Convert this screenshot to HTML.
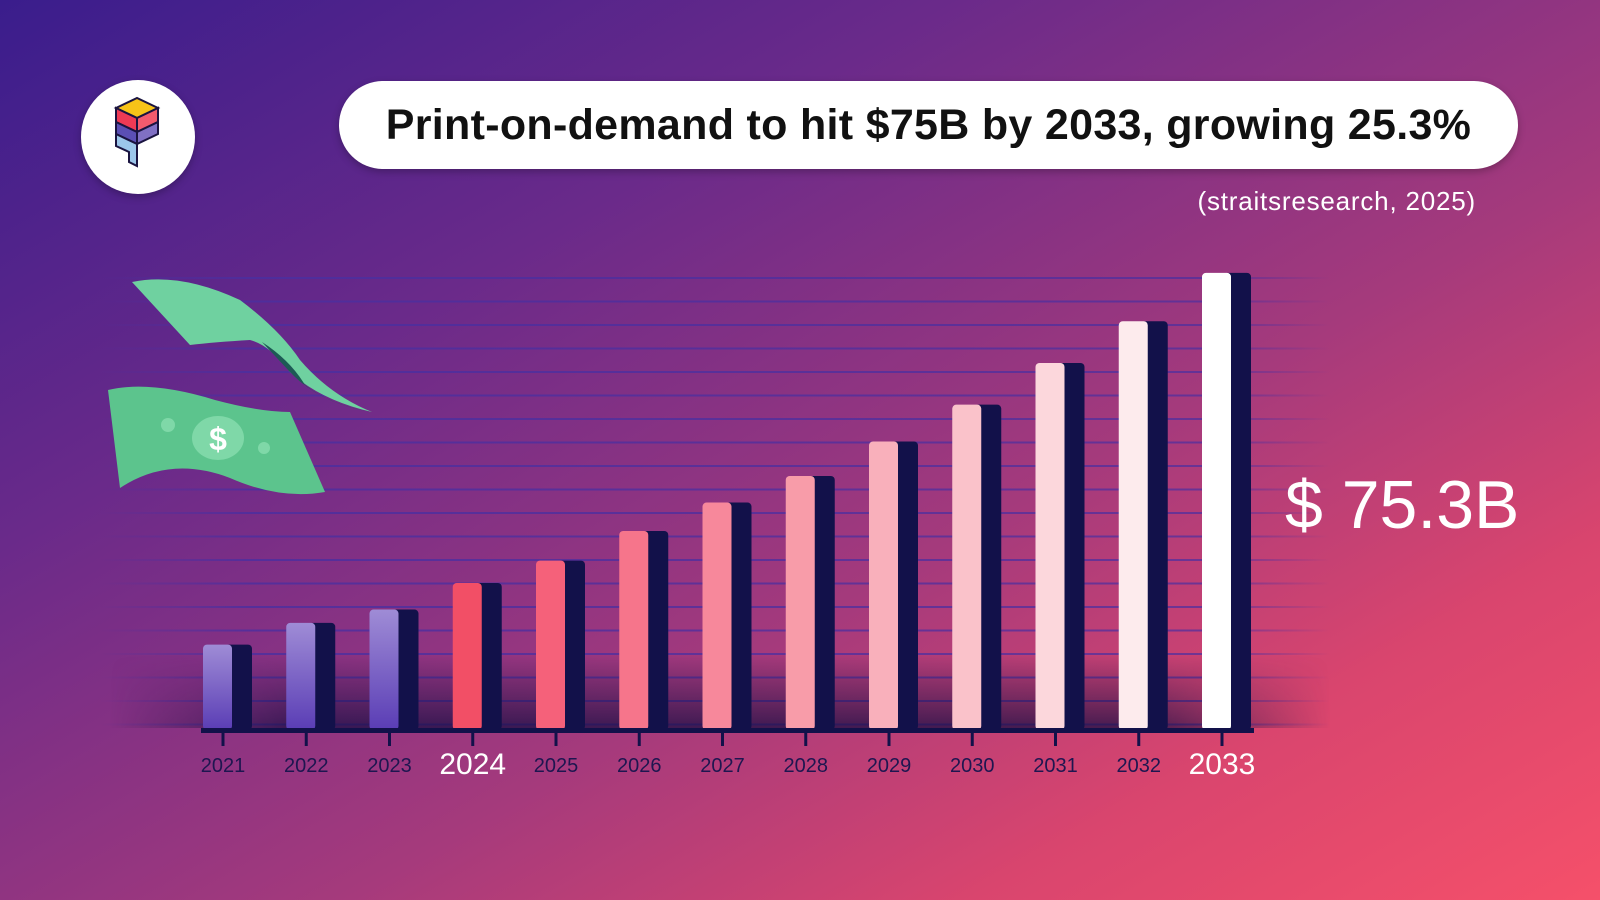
<!DOCTYPE html>
<html><head><meta charset="utf-8">
<style>
html,body{margin:0;padding:0}
body{width:1600px;height:900px;overflow:hidden;position:relative;font-family:"Liberation Sans",sans-serif;
background:linear-gradient(150deg,#3a1d8c 0%,#6a2a8a 30%,#a53a7c 60%,#d9456e 80%,#f5506a 100%);}
.pill{position:absolute;left:339px;top:81px;width:1179px;height:88px;background:#fff;border-radius:44px;box-shadow:0 3px 8px rgba(0,0,0,.25);display:flex;align-items:center;justify-content:center;font-size:43px;font-weight:bold;color:#111;letter-spacing:0.3px}
.src{position:absolute;right:124px;top:186px;font-size:26px;color:#fff;letter-spacing:0.8px}
.logo{position:absolute;left:81px;top:80px;width:114px;height:114px;border-radius:50%;background:#fff;box-shadow:0 3px 8px rgba(0,0,0,.25)}
.big{position:absolute;left:1285px;top:466px;font-size:68px;color:#fff}
svg{position:absolute;left:0;top:0}
</style></head><body>
<div class="logo">
<svg width="114" height="114" viewBox="0 0 114 114">
<polygon points="35,28 56,18 77,28 56,38" fill="#f7c318" stroke="#1a1440" stroke-width="2"/>
<polygon points="35,28 56,38 56,52 35,42" fill="#ee3a55" stroke="#1a1440" stroke-width="2"/>
<polygon points="56,38 77,28 77,42 56,52" fill="#f35b6e" stroke="#1a1440" stroke-width="2"/>
<polygon points="35,42 56,52 56,64 35,54" fill="#5b4fb5" stroke="#1a1440" stroke-width="2"/>
<polygon points="56,52 77,42 77,54 56,64" fill="#8070c4" stroke="#1a1440" stroke-width="2"/>
<polygon points="35,54 56,64 56,86 48,82 48,72 35,66" fill="#9cc6ea" stroke="#1a1440" stroke-width="2"/>
</svg></div>
<div class="pill">Print-on-demand to hit $75B by 2033, growing 25.3%</div>
<div class="src">(straitsresearch, 2025)</div>
<svg id="chart" width="1600" height="900">
<defs>
<linearGradient id="lav" x1="0" y1="0" x2="0" y2="1"><stop offset="0" stop-color="#9f8cd6"/><stop offset="1" stop-color="#5a3db5"/></linearGradient>
<linearGradient id="shadeV" x1="0" y1="0" x2="0" y2="1"><stop offset="0" stop-color="#fff" stop-opacity="0"/><stop offset="1" stop-color="#fff" stop-opacity="1"/></linearGradient>
<linearGradient id="shadeH" x1="0" y1="0" x2="1" y2="0"><stop offset="0" stop-color="#fff" stop-opacity="0"/><stop offset="0.15" stop-color="#fff" stop-opacity="1"/><stop offset="0.85" stop-color="#fff" stop-opacity="1"/><stop offset="1" stop-color="#fff" stop-opacity="0"/></linearGradient>
<mask id="mH"><rect x="110" y="650" width="1220" height="80" fill="url(#shadeH)"/></mask>
<linearGradient id="shade" x1="0" y1="0" x2="0" y2="1"><stop offset="0" stop-color="#1a0f45" stop-opacity="0"/><stop offset="1" stop-color="#1a0f45" stop-opacity="0.75"/></linearGradient>
<linearGradient id="gridfade" x1="0" y1="0" x2="1" y2="0"><stop offset="0" stop-color="#4a2fa0" stop-opacity="0"/><stop offset="0.12" stop-color="#4a2fa0" stop-opacity="0.8"/><stop offset="0.9" stop-color="#4a2fa0" stop-opacity="0.7"/><stop offset="1" stop-color="#4a2fa0" stop-opacity="0"/></linearGradient>
</defs>
<g id="grid"></g>
<rect x="110" y="655" width="1220" height="73" fill="url(#shade)" mask="url(#mH)"/>
<g id="bars"></g>
<g>
<path d="M132,282 Q180,272 240,300 Q280,330 300,360 Q330,395 372,412 Q320,400 290,372 Q270,345 250,340 Q215,342 190,345 Z" fill="#6fd1a0"/>
<path d="M262,342 Q290,360 305,385 Q330,405 372,412 Q320,404 290,372 Z" fill="#1d5a55"/>
<path d="M108,390 Q150,380 215,400 Q260,412 290,412 L325,492 Q280,500 230,478 Q170,455 120,488 Z" fill="#5cc48d"/>
<ellipse cx="218" cy="438" rx="26" ry="22" fill="#7fd8a8"/>
<text x="218" y="450" font-size="32" font-weight="bold" fill="#fff" text-anchor="middle" font-family="Liberation Sans,sans-serif">$</text>
<circle cx="168" cy="425" r="7" fill="#7fd8a8"/><circle cx="264" cy="448" r="6" fill="#7fd8a8"/>
</g>
<g id="axis"></g>
</svg>
<div class="big">$ 75.3B</div>
<script>
const years=["2021","2022","2023","2024","2025","2026","2027","2028","2029","2030","2031","2032","2033"];
const values=[13.8,17.4,19.6,24.0,27.7,32.6,37.3,41.7,47.4,53.5,60.4,67.3,75.3];
const colors=["url(#lav)","url(#lav)","url(#lav)","#f24f66","#f5617a","#f6758b","#f7889b","#f89ca9","#f9b0bb","#fac2ca","#fcd7dc","#fdebed","#ffffff"];
const highlight=["2024","2033"];
const NS="http://www.w3.org/2000/svg";
const baseY=728, pxPer=6.044, x0=223, step=83.25;
const xs=i=>x0+i*step, ys=v=>baseY-v*pxPer;
function mk(t,a,p){const e=document.createElementNS(NS,t);for(const k in a)e.setAttribute(k,a[k]);p.appendChild(e);return e;}
const grid=document.getElementById('grid');
for(let y=277;y<baseY;y+=23.5){
 const l=mk('rect',{x:100,y:y,width:1230,height:2,fill:'url(#gridfade)'},grid);
 
 
}
const bars=document.getElementById('bars');
values.forEach((v,i)=>{
 const x=xs(i), y=ys(v), h=baseY-y;
 const d=mk('rect',{x:x+2,y:y,width:27,height:h+2,rx:4,fill:'#12114a'},bars);
 
 
 const f=mk('rect',{x:x-20,y:y,width:29,height:h+2,rx:4,fill:colors[i]},bars);
 
 
});
const ax=document.getElementById('axis');
const base=mk('rect',{x:201,y:baseY,width:1053,height:5,fill:'#12114a'},ax);


years.forEach((yr,i)=>{
 const x=xs(i);
 const t=mk('rect',{x:x-1.5,y:baseY+4,width:3,height:14,fill:'#12114a'},ax);
 
 
 const hi=highlight.includes(yr);
 const tx=mk('text',{x:x,y:hi?774:772,'text-anchor':'middle','font-size':hi?30:20,fill:hi?'#ffffff':'#1e1650','font-family':'Liberation Sans,sans-serif'},ax);
 tx.textContent=yr;
 
 
});
</script>
</body></html>
